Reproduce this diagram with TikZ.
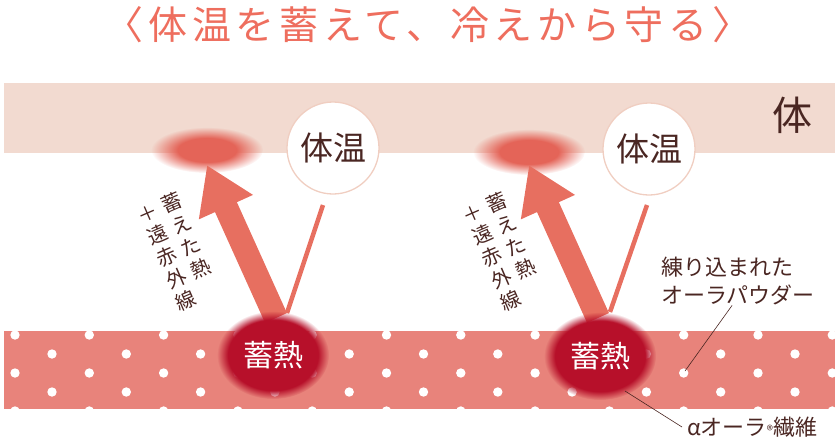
\documentclass[tikz,border=0pt]{standalone}
\usepackage{fontspec}
\setmainfont{Noto Sans CJK JP}
\usetikzlibrary{positioning}
\usetikzlibrary{arrows.meta}
\usetikzlibrary{fadings}
\usetikzlibrary{shapes.geometric}
\definecolor{titlered}{RGB}{238,110,94}
\definecolor{skin}{RGB}{242,218,208}
\definecolor{glowred}{RGB}{228,100,88}
\definecolor{heatred}{RGB}{231,111,96}
\definecolor{ringline}{RGB}{240,206,193}
\definecolor{brown}{RGB}{74,38,34}
\definecolor{fabric}{RGB}{232,131,123}
\definecolor{storered}{RGB}{183,16,42}
% soft edge for the glow spots
\pgfdeclareradialshading{softglowshade}{\pgfpointorigin}{color(0bp)=(pgftransparent!0); color(13bp)=(pgftransparent!0); color(25bp)=(pgftransparent!100); color(50bp)=(pgftransparent!100)}
\pgfdeclarefading{softglow}{\pgfuseshading{softglowshade}}
\tikzstyle{glowspot} = [ellipse, fill=glowred, minimum width=112, minimum height=46, path fading=softglow]
\tikzstyle{storespot} = [ellipse, fill=storered, minimum width=112, minimum height=88, text=white, font=\fontsize{30}{30}\selectfont, path fading=circle with fuzzy edge 20 percent]
\tikzstyle{tempcircle} = [circle, fill=white, draw=ringline, line width=1.3pt, minimum size=92, inner sep=0pt, text=brown, font=\fontsize{33}{33}\selectfont]
\tikzstyle{heatarrow} = [draw=heatred, line width=24pt, -{Triangle[width=56pt,length=46pt]}]
\tikzstyle{bodyline} = [draw=heatred, line width=4.5pt]
\tikzstyle{tatetext} = [text=brown, inner sep=0pt, rotate=23.5, font=\fontsize{20}{23.3}\selectfont]
\tikzstyle{leader} = [draw=brown, line width=0.6pt]

\begin{document}
\begin{tikzpicture}[x=1pt, y=-1pt]
        \useasboundingbox (0,0) rectangle (835,440);

        \node[text=titlered, font=\fontsize{39}{39}\selectfont\addfontfeature{LetterSpace=12}] (title) at (428,25) {〈体温を蓄えて、冷えから守る〉};

        % skin layer
        \fill[skin] (4,83) rectangle (835,153);
        \node[text=brown, font=\fontsize{40}{40}\selectfont] (body) at (792,115) {体};
        \node[glowspot] (glowA) at (207,150) {};
        \node[glowspot] (glowB) at (529,152) {};
        \node[tempcircle] (tempA) at (333,148) {体温};
        \node[tempcircle] (tempB) at (649,149) {体温};

        % fabric layer
        \fill[fabric] (4,331) rectangle (835,409);
        \begin{scope}
            \clip (4,331) rectangle (835,409);
            \foreach \r in {0,...,4}{
                \pgfmathsetmacro{\dy}{335+19*\r}
                \pgfmathsetmacro{\dx}{mod(\r,2)==0 ? 15 : 52}
                \foreach \c in {0,...,11}
                    \fill[white] (\dx+74.3*\c,\dy) circle[radius=4.7];
            }
        \end{scope}

        \coordinate (baseA) at (276,318);
        \coordinate (footA) at (287,313);
        \coordinate (topA) at (323,205);
        \coordinate (baseB) at (598,318);
        \coordinate (footB) at (610,312);
        \coordinate (topB) at (647,205);

        \draw[bodyline] (topA) -- (footA);
        \draw[bodyline] (topB) -- (footB);
        \draw[heatarrow] (baseA) -- ([shift={(0,-8)}]glowA.south);
        \draw[heatarrow] (baseB) -- ([shift={(0,-10)}]glowB.south);

        \node[storespot] (storeA) at (273,355) {蓄熱};
        \node[storespot] (storeB) at (600,356) {蓄熱};

        \node[tatetext] (heatA) at (180,254) {\begin{tabular}[t]{@{}c@{\hspace{6.5pt}}c@{}}＋&蓄\\遠&え\\赤&た\\外&熱\\線&\end{tabular}};
        \node[tatetext] (heatB) at (505,254) {\begin{tabular}[t]{@{}c@{\hspace{6.5pt}}c@{}}＋&蓄\\遠&え\\赤&た\\外&熱\\線&\end{tabular}};

        % labels
        \node[text=brown, align=left, anchor=north west, inner sep=0pt, font=\fontsize{22}{28}\selectfont] (powder) at (661,257) {練り込まれた\\オーラパウダー};
        \node[text=brown, anchor=west, inner sep=0pt, font=\fontsize{22}{22}\selectfont] (fiber) at (687,427) {αオーラ{\fontsize{13}{13}\selectfont ®}繊維};
        \coordinate (powderdot) at (685,371);
        \coordinate (fiberdot) at (625,391);
        \draw[leader] ([xshift=-6]powder.south) -- (powderdot);
        \draw[leader] ([xshift=-5]fiber.west) -- (fiberdot);
\end{tikzpicture}
\end{document}
